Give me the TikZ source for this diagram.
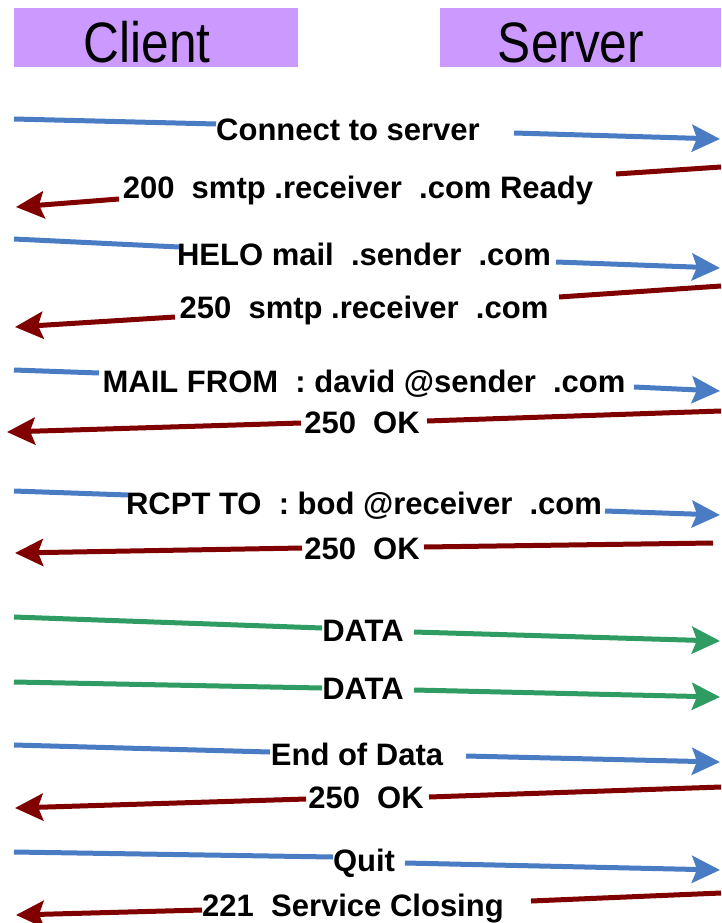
\documentclass[tikz,border=0pt]{standalone}
\usepackage{fontspec}
\setmainfont{Liberation Sans}
\newfontfamily\headfont[FakeStretch=0.87]{Liberation Sans}
\usetikzlibrary{arrows.meta}

\definecolor{hdrfill}{HTML}{CC99FF}
\definecolor{reqblue}{HTML}{4A7CC3}
\definecolor{repred}{HTML}{800000}
\definecolor{datagreen}{HTML}{2F9C63}

\tikzset{
  headbox/.style={draw=none, fill=hdrfill, minimum height=59pt, inner sep=0pt},
  headtext/.style={anchor=base, inner sep=0pt, font=\headfont\fontsize{57}{60}\selectfont},
  msglabel/.style={anchor=base, inner sep=0pt, font=\bfseries\fontsize{31}{34}\selectfont},
  wire/.style={line width=5pt},
  tip/.style={-{Stealth[length=28pt, width=27pt, inset=5pt]}},
  req/.style={wire, draw=reqblue},
  rep/.style={wire, draw=repred},
  dat/.style={wire, draw=datagreen},
}

\begin{document}
\begin{tikzpicture}[x=1pt, y=-1pt]
\useasboundingbox (0,0) rectangle (721,923);

% column headers
\node[headbox, minimum width=284pt] (clientbox) at (156,37.5) {};
\node[headtext] (client) at (147,63) {Client};
\node[headbox, minimum width=281pt] (serverbox) at (580.5,37.5) {};
\node[headtext] (server) at (571,63) {Server};

% Connect to server
\coordinate (s1) at (14,119);  \coordinate (a1) at (216,124);
\coordinate (b1) at (514,133); \coordinate (e1) at (720,139);
\node[msglabel] (m1) at (348,140) {Connect to server};
\draw[req] (s1) -- (a1);
\draw[req, tip] (b1) -- (e1);

% 200 Ready
\coordinate (s2) at (721,167); \coordinate (a2) at (616,174);
\coordinate (b2) at (119,199); \coordinate (e2) at (16,207);
\node[msglabel] (m2) at (358,198) {200~~smtp .receiver~~.com Ready};
\draw[rep] (s2) -- (a2);
\draw[rep, tip] (b2) -- (e2);

% HELO
\coordinate (s3) at (14,239);  \coordinate (a3) at (179,247);
\coordinate (b3) at (556,262); \coordinate (e3) at (720,268);
\node[msglabel] (m3) at (364,265) {HELO mail~~.sender~~.com};
\draw[req] (s3) -- (a3);
\draw[req, tip] (b3) -- (e3);

% 250 reply to HELO
\coordinate (s4) at (721,286); \coordinate (a4) at (559,297);
\coordinate (b4) at (175,317); \coordinate (e4) at (15,327);
\node[msglabel] (m4) at (364,318) {250~~smtp .receiver~~.com};
\draw[rep] (s4) -- (a4);
\draw[rep, tip] (b4) -- (e4);

% MAIL FROM
\coordinate (s5) at (14,370);  \coordinate (a5) at (99,373);
\coordinate (b5) at (634,387); \coordinate (e5) at (720,391);
\node[msglabel] (m5) at (364,392) {MAIL FROM~~: david @sender~~.com};
\draw[req] (s5) -- (a5);
\draw[req, tip] (b5) -- (e5);

% 250 OK
\coordinate (s6) at (721,411); \coordinate (a6) at (427,421);
\coordinate (b6) at (301,423); \coordinate (e6) at (7,432);
\node[msglabel] (m6) at (362,433) {250~~OK};
\draw[rep] (s6) -- (a6);
\draw[rep, tip] (b6) -- (e6);

% RCPT TO
\coordinate (s7) at (14,491);  \coordinate (a7) at (128,495);
\coordinate (b7) at (605,511); \coordinate (e7) at (720,515);
\node[msglabel] (m7) at (364,514) {RCPT TO~~: bod @receiver~~.com};
\draw[req] (s7) -- (a7);
\draw[req, tip] (b7) -- (e7);

% 250 OK
\coordinate (s8) at (713,543); \coordinate (a8) at (424,547);
\coordinate (b8) at (302,548); \coordinate (e8) at (15,553);
\node[msglabel] (m8) at (362,559) {250~~OK};
\draw[rep] (s8) -- (a8);
\draw[rep, tip] (b8) -- (e8);

% DATA
\coordinate (s9) at (14,617);  \coordinate (a9) at (322,628);
\coordinate (b9) at (414,632); \coordinate (e9) at (720,641);
\node[msglabel] (m9) at (363,641) {DATA};
\draw[dat] (s9) -- (a9);
\draw[dat, tip] (b9) -- (e9);

% DATA
\coordinate (s10) at (14,682);  \coordinate (a10) at (322,688);
\coordinate (b10) at (414,690); \coordinate (e10) at (720,697);
\node[msglabel] (m10) at (363,699) {DATA};
\draw[dat] (s10) -- (a10);
\draw[dat, tip] (b10) -- (e10);

% End of Data
\coordinate (s11) at (14,745);  \coordinate (a11) at (270,752);
\coordinate (b11) at (466,756); \coordinate (e11) at (720,762);
\node[msglabel] (m11) at (357,765) {End of Data};
\draw[req] (s11) -- (a11);
\draw[req, tip] (b11) -- (e11);

% 250 OK
\coordinate (s12) at (721,787); \coordinate (a12) at (429,797);
\coordinate (b12) at (306,799); \coordinate (e12) at (15,808);
\node[msglabel] (m12) at (366,808) {250~~OK};
\draw[rep] (s12) -- (a12);
\draw[rep, tip] (b12) -- (e12);

% Quit
\coordinate (s13) at (14,852);  \coordinate (a13) at (333,857);
\coordinate (b13) at (405,863); \coordinate (e13) at (720,870);
\node[msglabel] (m13) at (364,871) {Quit};
\draw[req] (s13) -- (a13);
\draw[req, tip] (b13) -- (e13);

% 221 Service Closing
\coordinate (s14) at (721,893); \coordinate (a14) at (531,901);
\coordinate (b14) at (202,910); \coordinate (e14) at (16,915);
\node[msglabel] (m14) at (353,916) {221~~Service Closing};
\draw[rep] (s14) -- (a14);
\draw[rep, tip] (b14) -- (e14);
\end{tikzpicture}
\end{document}
